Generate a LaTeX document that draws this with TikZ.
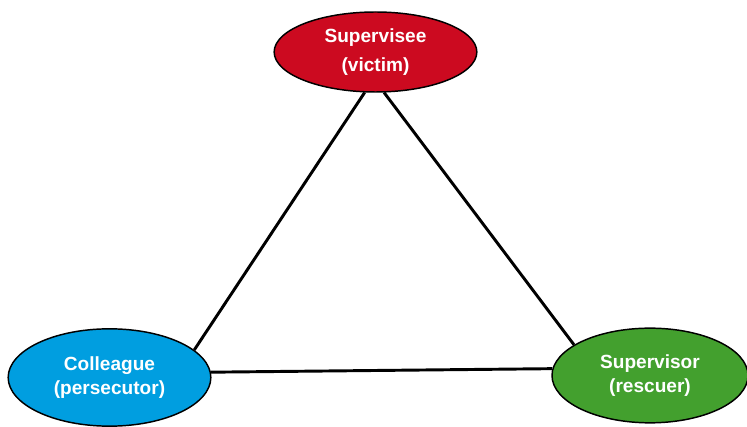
\documentclass[tikz,border=0pt]{standalone}
\usepackage{fontspec}
\setmainfont{Liberation Sans}
\usetikzlibrary{shapes.geometric}
\definecolor{vicred}{RGB}{204,10,32}
\definecolor{perblue}{RGB}{0,158,224}
\definecolor{resgreen}{RGB}{67,160,46}
\tikzset{
  role/.style={ellipse, draw=black, line width=1.1pt, inner sep=0pt, text=white,
    font=\fontsize{14.3}{17.5}\selectfont\bfseries, align=center},
  edge/.style={line width=2.2pt, black}
}
\begin{document}
\begin{tikzpicture}[x=0.75pt,y=-0.75pt]
\useasboundingbox (0,0) rectangle (747,427);
\node[role, fill=vicred, minimum width=152pt, minimum height=60pt,
  font=\fontsize{14.3}{21.75}\selectfont\bfseries] (victim) at (375.5,52) {Supervisee\\(victim)};
\node[role, fill=perblue, minimum width=152pt, minimum height=73pt] (pers) at (109.5,377.5) {Colleague\\(persecutor)};
\node[role, fill=resgreen, minimum width=147pt, minimum height=71pt] (resc) at (650,375.5) {Supervisor\\(rescuer)};
\draw[edge] (victim.255.6) -- (pers.18.9);
\draw[edge] (victim.282) -- (resc.158.6);
\draw[edge] (pers.3.1) -- (resc.176.7);
\end{tikzpicture}
\end{document}
